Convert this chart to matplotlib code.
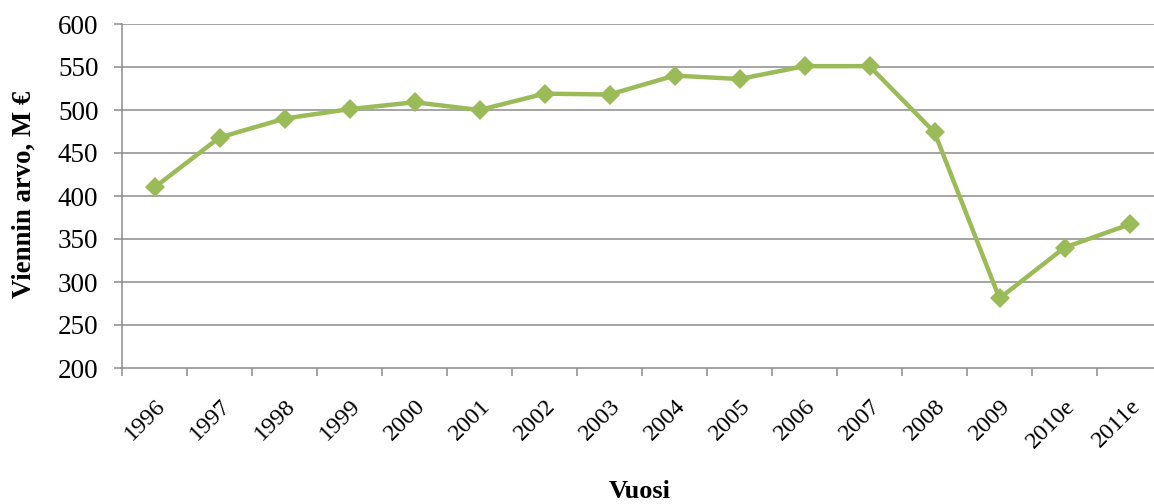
import matplotlib
matplotlib.use("Agg")
import matplotlib.pyplot as plt
import matplotlib.transforms as mtransforms

years = ["1996", "1997", "1998", "1999", "2000", "2001", "2002", "2003",
         "2004", "2005", "2006", "2007", "2008", "2009", "2010e", "2011e"]
export_value = [410, 468, 490, 501, 509, 500, 519, 518,
                540, 536, 551, 551, 474, 281, 340, 367]
y_ticks = [200, 250, 300, 350, 400, 450, 500, 550, 600]

plt.rcParams["font.family"] = ["Liberation Serif", "DejaVu Serif"]

W, H = 1154, 504
fig = plt.figure(figsize=(W / 100, H / 100), dpi=100)
ax = fig.add_axes([122 / W, 136 / H, 1040 / W, 344 / H])

grid_color = "#8c8c8c"
line_color = "#9bbb59"

x = list(range(len(years)))
ax.plot(x, export_value, color=line_color, linewidth=3.2, marker="D",
        markersize=10, markeredgewidth=0, zorder=3, clip_on=False)

ax.set_xlim(-0.5, len(years) - 0.5)
ax.set_ylim(200, 600)
ax.set_yticks(y_ticks)
ax.set_yticklabels([str(v) for v in y_ticks], fontsize=19.5)
for v in y_ticks[1:]:
    ax.axhline(v, color=grid_color, linewidth=1.1, zorder=1)

# category boundaries carry the x tick marks
ax.set_xticks([i - 0.5 for i in range(len(years) + 1)], minor=False)
ax.set_xticklabels([""] * (len(years) + 1))
ax.set_xticks(x, minor=True)
ax.set_xticklabels(years, minor=True, rotation=45, ha="right", va="top",
                   rotation_mode="anchor", fontsize=17.5)
shift = mtransforms.ScaledTranslation(-5 / 100, 0, fig.dpi_scale_trans)
for lbl in ax.get_xticklabels(minor=True):
    lbl.set_transform(lbl.get_transform() + shift)
ax.tick_params(axis="x", which="major", length=6, width=1.1, color=grid_color,
               direction="out")
ax.tick_params(axis="x", which="minor", length=0, pad=20)
ax.tick_params(axis="y", length=6, width=1.1, color=grid_color, pad=11)

for side in ("top", "right"):
    ax.spines[side].set_visible(False)
for side in ("left", "bottom"):
    ax.spines[side].set_color(grid_color)
    ax.spines[side].set_linewidth(1.1)

ax.set_ylabel("Viennin arvo, M €", fontsize=19.3, fontweight="bold")
ax.yaxis.set_label_coords(24 / W, 1 - 194 / H, transform=fig.transFigure)
ax.yaxis.label.set_va("center")
fig.text(640 / W, 1 - 492 / H, "Vuosi", fontsize=19, fontweight="bold",
         ha="center", va="center")

fig.savefig("out.png", dpi=100)
